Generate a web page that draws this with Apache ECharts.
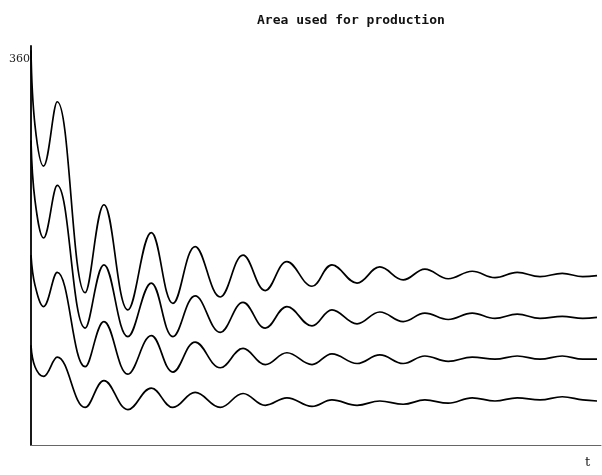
<!DOCTYPE html>
<html>
<head>
<meta charset="utf-8">
<script src="https://cdn.jsdelivr.net/npm/echarts@6/dist/echarts.min.js"></script>
<style>
html,body{margin:0;padding:0;background:#fff;}
#chart{width:602px;height:475px;}
</style>
</head>
<body>
<div id="chart"></div>
<script>
// time points (t axis, 0..100): start, then turning points of the oscillations
const T = [0, 0.7, 2.2, 4.6, 9.5, 12.8, 17.0, 21.1, 24.9, 28.8, 33.2, 37.2, 41.1, 44.9, 49.3, 52.8,
  57.2, 61.2, 65.3, 69.1, 73.2, 77.4, 81.4, 85.3, 89.3, 93.2, 96.8, 99.3];

const area1 = [368, 298, 260, 320, 142, 224, 126, 198, 132, 185, 138, 177, 144, 171, 148, 168,
  151, 166, 154, 164, 155, 162, 156, 161, 157, 160, 157, 158];

const area2 = [284, 228, 193, 242, 109, 168, 101, 151, 101, 139, 105, 133, 109, 129, 111, 126,
  113, 124, 115, 123, 117, 123, 118, 122, 118, 120, 118, 119];

const area3 = [177, 149, 129, 161, 73, 115, 66, 102, 68, 96, 72, 90, 75, 86, 75, 85,
  76, 84, 76, 83, 78, 82, 80, 83, 80, 83, 80, 80];

const area4 = [93, 73, 64, 82, 35, 60, 33, 53, 35, 49, 35, 48, 37, 44, 36, 42,
  37, 41, 38, 42, 39, 44, 41, 44, 42, 45, 42, 41];

const yTickLabels = [360];
const titleText = 'Area used for production';
const xName = 't';

function pairs(vals) { return T.map((t, i) => [t, vals[i]]); }

const chart = echarts.init(document.getElementById('chart'), null, {renderer: 'canvas'});

const lineSeries = [area1, area2, area3, area4].map(v => ({
  type: 'line',
  data: pairs(v),
  smooth: 0.4,
  symbol: 'none',
  lineStyle: {color: '#000', width: 1.7},
  silent: true
}));

chart.setOption({
  animation: false,
  backgroundColor: '#fff',
  title: {
    text: titleText,
    left: 252,
    top: 9,
    textStyle: {fontFamily: 'DejaVu Sans Mono', fontSize: 13, fontWeight: 'bold', color: '#111'}
  },
  grid: {left: 31, right: 1, top: 46, bottom: 30, containLabel: false},
  xAxis: {
    type: 'value',
    min: 0,
    max: 100,
    axisLine: {show: true, lineStyle: {color: '#666', width: 1}},
    axisTick: {show: false},
    axisLabel: {show: false},
    splitLine: {show: false}
  },
  yAxis: {
    type: 'value',
    min: 0,
    max: 372,
    interval: 120,
    axisLine: {show: true, lineStyle: {color: '#000', width: 1.8}},
    axisTick: {show: false},
    splitLine: {show: false},
    axisLabel: {
      show: true,
      margin: 1,
      fontFamily: 'DejaVu Serif',
      fontSize: 11,
      color: '#222',
      formatter: v => (yTickLabels.indexOf(v) >= 0 ? String(v) : '')
    }
  },
  graphic: [{
    type: 'text',
    left: 585,
    top: 456,
    style: {text: xName, font: '13px "DejaVu Serif"', fill: '#222'}
  }],
  series: lineSeries
});
</script>
</body>
</html>
